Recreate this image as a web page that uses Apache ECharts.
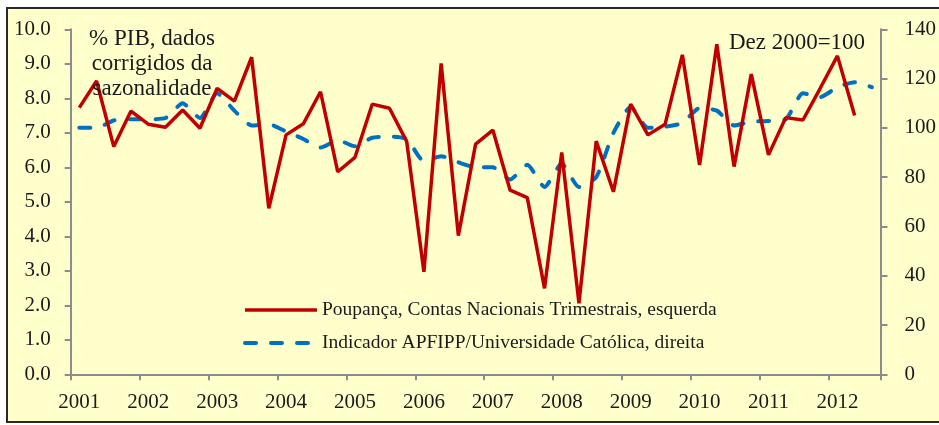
<!DOCTYPE html>
<html>
<head>
<meta charset="utf-8">
<script src="https://cdn.jsdelivr.net/npm/echarts@6/dist/echarts.min.js"></script>
<style>html,body{margin:0;padding:0;background:#fff;}#c{width:939px;height:425px;}</style>
</head>
<body>
<div id="c"></div>
<script>
var years = ['2001','2002','2003','2004','2005','2006','2007','2008','2009','2010','2011','2012'];
var quarters = ['T1','T2','T3','T4'];
var quarterCount = 47;
var poupanca = [7.73, 8.50, 6.60, 7.63, 7.25, 7.16, 7.66, 7.13, 8.29, 7.92,
  9.19, 4.81, 6.94, 7.26, 8.19, 5.87, 6.29, 7.83, 7.71, 6.75,
  2.97, 9.01, 4.02, 6.67, 7.08, 5.34, 5.12, 2.49, 6.43, 2.06,
  6.76, 5.29, 7.83, 6.94, 7.25, 9.26, 6.07, 9.57, 6.02, 8.70,
  6.36, 7.44, 7.37, 8.29, 9.23, 7.50];
var indicador = [100, 100, 103, 103.5, 103.5, 104, 110, 104, 114, 107,
  101, 101.5, 98.5, 95.5, 92, 95, 92.5, 96, 96.5, 95.5,
  86.5, 88.5, 86, 84, 84, 79, 85, 76, 85.5, 76,
  80, 98, 108.5, 100, 100.5, 102, 108, 107, 101, 102.5,
  102.8, 103.5, 114, 112.5, 116.5, 118.5, 116.5];
var leftTicks = {min: 0, max: 10, interval: 1};
var rightTicks = {min: 0, max: 140, interval: 20};
var seriesNames = ['Poupança, Contas Nacionais Trimestrais, esquerda', 'Indicador APFIPP/Universidade Católica, direita'];
var noteLeft = '% PIB, dados\ncorrigidos da\nsazonalidade';
var noteRight = 'Dez 2000=100';

var categories = [];
for (var y = 0; y < years.length; y++) {
  for (var q = 0; q < 4; q++) {
    if (categories.length < quarterCount) categories.push(years[y] + quarters[q]);
  }
}

var FONT = 'Liberation Serif';
var axisCol = '#8c8c8c';
var txtCol = '#1a1a1a';
var redStyle = {color: '#C00000', width: 3.5};
var blueStyle = {color: '#0070C0', width: 4, type: [11, 15], cap: 'round'};

var chart = echarts.init(document.getElementById('c'), null, {renderer: 'canvas'});
chart.setOption({
  backgroundColor: '#ffffff',
  animation: false,
  grid: {left: 70.7, right: 50.7, top: 29.3, bottom: 50.7, containLabel: false},
  graphic: [
    {type: 'rect', z: -10, shape: {x: 7, y: 8, width: 940, height: 414},
     style: {fill: '#FFFFCC', stroke: '#2a2a2a', lineWidth: 2}},
    {type: 'text', x: 152, y: 26, z: 5,
     style: {text: noteLeft, align: 'center', verticalAlign: 'top', font: '23px "Liberation Serif"', lineHeight: 25, fill: txtCol}},
    {type: 'text', x: 797, y: 43, z: 5,
     style: {text: noteRight, align: 'center', verticalAlign: 'middle', font: '23px "Liberation Serif"', fill: txtCol}}
  ],
  legend: {
    orient: 'vertical', left: 238, top: 295, itemWidth: 72, itemHeight: 14, itemGap: 13,
    textStyle: {fontFamily: FONT, fontSize: 19.5, color: txtCol, lineHeight: 20},
    itemStyle: {opacity: 0},
    data: [
      {name: seriesNames[0], lineStyle: {width: 3.5, color: '#C00000'}},
      {name: seriesNames[1], lineStyle: {width: 4, color: '#0070C0', type: [11, 15], cap: 'round'}}
    ]
  },
  xAxis: {
    type: 'category', data: categories, boundaryGap: true,
    axisLine: {lineStyle: {color: axisCol, width: 2}},
    axisTick: {show: true, interval: 3, length: 6, lineStyle: {color: axisCol, width: 2}},
    axisLabel: {interval: 3, margin: 18, fontFamily: FONT, fontSize: 21, color: txtCol,
      formatter: function (v) { return v.slice(0, 4); }},
    splitLine: {show: false}
  },
  yAxis: [
    {type: 'value', position: 'left', min: leftTicks.min, max: leftTicks.max, interval: leftTicks.interval,
     axisLine: {show: true, lineStyle: {color: axisCol, width: 2}},
     axisTick: {show: true, length: 6, lineStyle: {color: axisCol, width: 2}},
     axisLabel: {margin: 20, fontFamily: FONT, fontSize: 21, color: txtCol,
       formatter: function (v) { return v.toFixed(1); }},
     splitLine: {show: false}},
    {type: 'value', position: 'right', min: rightTicks.min, max: rightTicks.max, interval: rightTicks.interval,
     axisLine: {show: true, lineStyle: {color: axisCol, width: 2}},
     axisTick: {show: true, length: 7, lineStyle: {color: axisCol, width: 2}},
     axisLabel: {margin: 24, fontFamily: FONT, fontSize: 21, color: txtCol},
     splitLine: {show: false}}
  ],
  series: [
    {name: seriesNames[0], type: 'line', yAxisIndex: 0, data: poupanca, symbol: 'none',
     lineStyle: redStyle, itemStyle: {color: '#C00000'}, z: 3},
    {name: seriesNames[1], type: 'line', yAxisIndex: 1, data: indicador, symbol: 'none', smooth: 0.2,
     lineStyle: blueStyle, itemStyle: {color: '#0070C0'}, z: 2}
  ]
});
</script>
</body>
</html>
